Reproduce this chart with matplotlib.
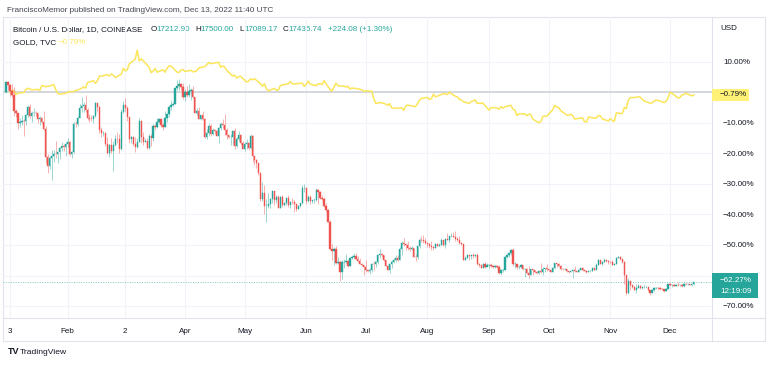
import numpy as np
import pandas as pd
import matplotlib.pyplot as plt

# BTC daily candles, thousands of USD, Jan 1 - Dec 13 2022 (open = previous close)
btc_first_open = 46.211
btc_close = [
    47.74, 47.31, 46.43, 45.84, 43.43, 43.10, 41.55, 41.67, 41.87, 41.82, 42.74, 43.95, 42.59, 43.10, 43.18, 43.11,
    42.25, 42.38, 41.74, 40.68, 36.46, 35.03, 36.28, 36.65, 36.95, 36.85, 37.14, 37.78, 38.14, 37.92, 38.48,
    38.74, 36.95, 37.15, 41.50, 41.41, 42.41, 43.84, 44.12, 44.34, 43.57, 42.41, 42.25, 42.20, 42.59, 44.58, 43.96,
    40.54, 40.03, 40.12, 38.43, 37.08, 38.29, 37.30, 38.33, 39.21, 39.11, 37.71, 43.19,
    44.35, 43.93, 42.45, 39.14, 39.40, 38.42, 37.99, 38.73, 41.94, 39.42, 38.73, 38.81, 37.78, 39.67, 39.28, 41.11,
    40.92, 41.76, 42.20, 41.26, 41.00, 42.36, 42.88, 43.99, 44.31, 44.51, 46.83, 47.13, 47.47, 47.06, 45.54,
    46.28, 45.81, 46.41, 46.58, 45.50, 43.17, 43.44, 42.25, 42.75, 42.16, 39.53, 40.07, 41.15, 39.94, 40.55, 40.38,
    39.68, 40.80, 41.50, 41.36, 40.48, 39.71, 39.44, 39.45, 40.43, 38.11, 39.24, 39.74, 38.60, 37.63,
    38.47, 38.53, 37.73, 39.69, 36.55, 36.01, 35.47, 34.04, 30.08, 31.01, 28.94, 29.05, 29.28, 30.10, 31.31, 29.86,
    30.43, 28.72, 30.32, 29.20, 29.45, 30.29, 29.10, 29.66, 29.56, 29.27, 28.63, 29.03, 29.47, 31.73, 31.80,
    29.81, 30.45, 29.70, 29.87, 29.92, 31.37, 31.13, 30.20, 30.11, 29.09, 28.42, 26.58, 22.49, 22.21, 22.57, 20.38,
    20.47, 19.02, 20.55, 20.60, 20.71, 19.99, 21.09, 21.23, 21.50, 21.03, 20.74, 20.28, 20.10, 19.79,
    19.27, 19.24, 19.30, 20.23, 20.19, 20.55, 21.64, 21.73, 21.59, 20.86, 19.97, 19.32, 20.21, 20.57, 20.84, 21.19,
    20.78, 22.49, 23.39, 23.23, 23.16, 22.71, 22.47, 22.61, 21.36, 21.24, 22.93, 23.84, 23.80, 23.66, 23.34,
    23.31, 22.98, 22.85, 22.63, 23.29, 22.96, 23.18, 23.81, 23.15, 23.95, 23.93, 24.40, 24.44, 24.31, 24.09, 23.85,
    23.34, 23.19, 20.83, 21.14, 21.52, 21.42, 21.53, 21.37, 21.56, 20.24, 20.04, 19.56, 20.29, 19.81, 20.05,
    20.13, 19.95, 19.83, 19.99, 19.81, 18.84, 19.29, 19.32, 21.36, 21.65, 21.83, 22.40, 20.17, 20.23, 19.70, 19.80,
    20.11, 19.42, 19.54, 18.89, 18.55, 19.41, 19.30, 18.94, 18.80, 19.22, 19.08, 19.41, 19.59, 19.42,
    19.31, 19.06, 19.63, 20.34, 20.16, 19.96, 19.53, 19.42, 19.45, 19.14, 19.05, 19.16, 19.38, 19.18, 19.07, 19.27,
    19.55, 19.33, 19.14, 19.05, 19.17, 19.21, 19.57, 19.35, 20.10, 20.77, 20.30, 20.59, 20.81, 20.63, 20.49,
    20.48, 20.15, 20.21, 21.15, 21.30, 20.91, 20.59, 18.54, 15.88, 17.59, 17.03, 16.80, 16.35, 16.62, 16.88, 16.66,
    16.69, 16.70, 16.71, 16.28, 15.78, 16.23, 16.60, 16.60, 16.52, 16.46, 16.43, 16.21, 16.44, 17.17,
    16.97, 17.09, 16.89, 17.11, 16.97, 17.09, 16.84, 17.23, 17.13, 17.13, 17.11, 17.213, 17.436,
]
btc_high = [
    47.94, 47.99, 47.57, 47.51, 47.07, 43.75, 43.14, 42.30, 42.75, 42.25, 43.00, 44.35, 44.43, 43.40, 43.79, 43.47,
    43.18, 42.69, 42.55, 43.41, 41.10, 36.84, 36.57, 37.50, 37.55, 38.92, 37.23, 38.00, 38.72, 38.37, 38.74,
    39.27, 38.85, 37.39, 41.72, 41.95, 42.66, 44.50, 45.49, 44.80, 45.82, 43.92, 42.99, 42.75, 42.84, 44.74, 44.58,
    44.19, 40.97, 40.44, 40.18, 39.47, 38.40, 39.26, 38.89, 39.71, 40.29, 39.88, 43.76,
    44.95, 45.38, 44.10, 42.52, 39.62, 39.63, 39.51, 39.35, 42.40, 41.94, 40.23, 39.33, 39.28, 39.88, 39.86, 41.48,
    41.43, 42.33, 42.39, 42.27, 41.54, 43.35, 43.00, 44.22, 45.10, 44.80, 46.90, 48.10, 48.19, 47.70, 47.60,
    46.70, 47.20, 47.44, 46.89, 47.19, 45.50, 43.90, 43.98, 42.80, 43.40, 42.40, 40.70, 41.55, 41.50, 40.88, 40.70,
    40.59, 41.00, 41.75, 42.20, 42.98, 40.80, 39.80, 39.92, 40.60, 40.80, 39.46, 40.37, 39.90, 38.80,
    38.65, 39.17, 38.65, 39.90, 39.80, 36.64, 36.10, 35.50, 34.20, 32.65, 32.20, 30.00, 30.98, 30.30, 31.40, 31.30,
    30.75, 30.66, 30.50, 30.70, 29.60, 30.45, 30.65, 29.80, 30.20, 29.90, 29.35, 29.20, 29.50, 32.15, 32.40,
    31.90, 30.65, 30.70, 29.95, 30.16, 31.70, 31.56, 31.32, 30.66, 30.36, 29.42, 28.55, 26.90, 23.30, 22.80, 22.95,
    21.30, 20.80, 20.80, 21.00, 21.70, 20.87, 21.20, 21.55, 21.85, 21.87, 21.50, 21.20, 20.40, 20.15,
    20.85, 19.42, 19.65, 20.35, 20.70, 20.65, 21.80, 22.45, 21.95, 21.60, 20.85, 20.05, 20.30, 20.85, 21.20, 21.57,
    21.65, 22.75, 23.77, 24.20, 23.40, 23.75, 22.95, 22.99, 22.67, 21.70, 23.00, 24.20, 24.45, 24.65, 24.20,
    23.47, 23.45, 23.65, 22.99, 23.45, 23.35, 23.40, 24.24, 23.92, 24.18, 24.92, 24.45, 24.88, 25.05, 25.20, 24.25,
    24.43, 23.60, 23.21, 21.37, 21.80, 21.52, 21.65, 21.86, 21.80, 21.88, 20.35, 20.15, 20.40, 20.55, 20.45,
    20.20, 20.45, 20.05, 20.00, 20.05, 20.15, 19.45, 19.45, 21.45, 21.80, 21.85, 22.50, 22.60, 20.55, 20.30, 19.90,
    20.20, 20.10, 19.65, 19.60, 19.95, 19.50, 19.50, 19.32, 19.20, 19.30, 20.35, 19.80, 19.65, 20.18,
    19.48, 19.39, 19.70, 20.45, 20.36, 20.45, 20.05, 19.62, 19.55, 19.52, 19.20, 19.22, 19.50, 19.95, 19.22, 19.40,
    19.69, 19.70, 19.35, 19.35, 19.25, 19.27, 19.70, 19.60, 20.40, 21.00, 20.87, 20.75, 21.08, 20.92, 20.85,
    20.65, 20.80, 20.40, 21.30, 21.48, 21.37, 20.97, 20.70, 18.59, 18.13, 17.66, 17.05, 16.90, 17.19, 17.13, 16.97,
    16.75, 17.00, 16.82, 16.74, 16.30, 16.30, 16.68, 16.81, 16.80, 16.69, 16.60, 16.48, 16.54, 17.25,
    17.32, 17.10, 17.16, 17.20, 17.43, 17.10, 17.13, 17.31, 17.30, 17.23, 17.27, 17.24, 17.50,
]
btc_low = [
    46.21, 46.66, 45.70, 45.50, 42.65, 42.50, 40.61, 41.00, 41.22, 39.65, 41.27, 42.47, 42.33, 41.75, 42.60, 42.58,
    41.54, 41.25, 41.40, 40.55, 35.55, 34.01, 34.60, 33.00, 35.70, 36.25, 35.55, 36.20, 37.40, 37.36, 36.65,
    38.02, 36.62, 36.26, 37.05, 40.95, 41.13, 42.38, 43.32, 43.22, 43.20, 41.99, 41.73, 41.86, 41.57, 42.43, 43.32,
    40.11, 39.48, 39.66, 38.04, 36.84, 36.38, 37.03, 34.32, 38.03, 38.63, 37.05, 37.50,
    43.03, 43.36, 41.83, 38.60, 38.60, 38.10, 37.15, 37.86, 38.66, 38.53, 38.23, 38.66, 37.60, 37.58, 38.12, 38.90,
    40.50, 40.85, 41.55, 40.95, 40.47, 41.00, 41.75, 42.57, 43.60, 44.10, 44.40, 46.61, 46.58, 46.56, 45.20,
    44.90, 45.60, 45.60, 45.10, 45.40, 43.05, 42.73, 42.13, 42.11, 42.10, 39.25, 39.22, 39.60, 39.58, 39.80, 39.99,
    39.55, 38.54, 40.57, 40.80, 39.75, 39.20, 39.30, 38.20, 38.20, 37.70, 37.88, 38.90, 38.19, 37.58,
    37.40, 37.70, 37.50, 37.65, 35.75, 35.30, 34.80, 33.70, 29.75, 29.75, 27.75, 26.60, 28.75, 28.70, 29.50, 29.10,
    29.40, 28.65, 28.70, 28.80, 28.95, 29.20, 28.90, 28.70, 29.30, 28.05, 28.30, 28.55, 28.85, 29.30, 31.20,
    29.30, 29.60, 29.25, 29.50, 29.50, 29.80, 29.25, 30.00, 29.95, 28.85, 28.10, 26.55, 22.35, 20.80, 20.10, 20.25,
    20.25, 17.60, 18.00, 19.65, 20.35, 19.78, 19.90, 20.95, 21.00, 20.95, 20.50, 20.20, 19.85, 18.60,
    18.95, 18.98, 18.75, 19.05, 19.30, 19.80, 20.28, 21.20, 21.30, 20.68, 19.86, 19.25, 18.93, 19.65, 20.38, 20.50,
    20.75, 20.78, 21.60, 22.90, 22.35, 22.35, 22.25, 22.30, 21.25, 20.70, 21.05, 22.58, 23.50, 23.45, 23.30,
    22.85, 22.68, 22.42, 22.42, 22.58, 22.92, 22.88, 23.16, 22.90, 22.68, 23.88, 23.62, 24.25, 24.25, 23.75, 23.68,
    23.20, 23.13, 20.80, 20.78, 21.10, 20.90, 21.01, 21.20, 21.35, 20.15, 19.80, 19.55, 19.55, 19.55, 19.85,
    19.58, 19.75, 19.65, 19.61, 19.63, 18.67, 18.55, 19.00, 19.28, 21.10, 21.35, 21.60, 19.90, 19.60, 19.50, 19.50,
    19.62, 19.35, 18.25, 18.70, 18.15, 18.60, 18.60, 18.85, 18.65, 18.70, 18.82, 18.50, 19.00, 19.20,
    19.20, 19.00, 19.04, 19.50, 19.83, 19.86, 19.35, 19.32, 19.31, 19.05, 18.88, 18.97, 18.15, 19.08, 18.98, 19.05,
    19.25, 19.18, 19.08, 18.90, 18.95, 19.12, 19.20, 19.27, 19.25, 20.05, 20.20, 20.00, 20.56, 20.50, 20.25,
    20.35, 20.05, 20.05, 20.18, 21.08, 20.88, 20.38, 17.17, 15.59, 15.75, 16.35, 16.55, 16.25, 15.82, 16.55, 16.40,
    16.43, 16.55, 16.55, 16.18, 15.48, 15.78, 16.17, 16.45, 16.35, 16.35, 16.40, 16.00, 16.21, 16.43,
    16.86, 16.79, 16.88, 16.88, 16.90, 16.90, 16.70, 16.75, 17.07, 17.07, 17.07, 16.87, 17.09,
]

# TVC:GOLD weekday closes, Jan 3 - Dec 13 2022
gold_base = 1801.0
gold_close = [
    1801, 1814, 1810, 1789, 1797, 1801, 1818, 1826, 1821, 1817, 1819, 1813, 1842, 1839, 1835, 1843, 1848, 1819,
    1797, 1791, 1797,
    1801, 1807, 1805, 1807, 1820, 1826, 1833, 1827, 1859, 1871, 1855, 1871, 1898, 1898, 1906, 1899, 1910, 1903,
    1889, 1909,
    1944, 1928, 1936, 1970, 1998, 2051, 1988, 2000, 1988, 1951, 1918, 1927, 1943, 1921, 1935, 1921, 1944, 1958,
    1958, 1922, 1919, 1933, 1937,
    1925, 1932, 1923, 1925, 1931, 1946, 1954, 1966, 1978, 1971, 1974, 1979, 1950, 1958, 1951, 1932, 1898, 1904,
    1887, 1894, 1897,
    1863, 1868, 1881, 1876, 1883, 1854, 1838, 1853, 1822, 1811, 1825, 1815, 1815, 1842, 1846, 1853, 1866, 1853,
    1851, 1853, 1856, 1837,
    1848, 1869, 1851, 1841, 1852, 1853, 1848, 1871, 1819, 1809, 1834, 1857, 1840, 1839, 1833, 1838, 1822, 1827,
    1823, 1820, 1817, 1807,
    1811, 1808, 1764, 1737, 1739, 1742, 1733, 1725, 1735, 1711, 1708, 1709, 1711, 1696, 1719, 1727, 1719, 1717,
    1735, 1755, 1766,
    1772, 1760, 1765, 1791, 1775, 1789, 1795, 1792, 1789, 1802, 1779, 1776, 1761, 1758, 1747, 1736, 1748, 1751,
    1758, 1737, 1738, 1723, 1711,
    1697, 1712, 1710, 1702, 1718, 1708, 1717, 1725, 1702, 1697, 1665, 1675, 1675, 1664, 1674, 1671, 1644, 1622,
    1629, 1660, 1661, 1661,
    1699, 1725, 1716, 1712, 1695, 1668, 1666, 1673, 1666, 1644, 1650, 1652, 1629, 1627, 1657, 1649, 1652, 1665,
    1663, 1645, 1633,
    1647, 1636, 1630, 1681, 1676, 1712, 1706, 1755, 1771, 1772, 1777, 1774, 1761, 1751, 1738, 1740, 1750, 1755,
    1755, 1741, 1749, 1768,
    1802, 1797, 1769, 1771, 1787, 1789, 1797, 1781, 1786.8,
]

month_dates = ["2022-01-03", "2022-02-01", "2022-03-02", "2022-04-01", "2022-05-01", "2022-06-01",
               "2022-07-01", "2022-08-01", "2022-09-01", "2022-10-01", "2022-11-01", "2022-12-01"]
month_labels = ["3", "Feb", "2", "Apr", "May", "Jun", "Jul", "Aug", "Sep", "Oct", "Nov", "Dec"]
pct_ticks = [10, 0, -10, -20, -30, -40, -50, -60, -70]

UP = "#26a69a"
DOWN = "#ef5350"
GOLD = "#fbe55a"
TXT = "#131722"
BORDER = "#e0e3eb"
GRID = "#f0f3fa"
FS = 5.8
plt.rcParams["font.family"] = ["Liberation Sans", "DejaVu Sans"]

start = pd.Timestamp("2022-01-01")
btc_dates = pd.date_range(start, periods=len(btc_close), freq="D")
btc_x = np.array((btc_dates - start).days, dtype=float)
close = np.array(btc_close)
opens = np.concatenate([[btc_first_open], close[:-1]])
base = btc_first_open
c_pct = (close / base - 1) * 100
o_pct = (opens / base - 1) * 100
h_pct = (np.array(btc_high) / base - 1) * 100
l_pct = (np.array(btc_low) / base - 1) * 100
cols = np.where(c_pct >= o_pct, UP, DOWN)

gold_dates = pd.bdate_range("2022-01-03", periods=len(gold_close))
gold_x = np.array((gold_dates - start).days, dtype=float)
gold_pct = (np.array(gold_close) / gold_base - 1) * 100

W, H = 768, 365
fig = plt.figure(figsize=(W / 100, H / 100), dpi=100)

# frame / header in pixel coords
bg = fig.add_axes([0, 0, 1, 1], zorder=0)
bg.set_xlim(0, W)
bg.set_ylim(H, 0)
bg.axis("off")
pl, pr, pt, pb = 3, 712, 17, 318
bg.plot([pl, 765, 765, pl, pl], [pt, pt, 341, 341, pt], color=BORDER, lw=0.8)
bg.plot([pl, 765], [pb, pb], color=BORDER, lw=0.8)
bg.plot([pr, pr], [pt, 341], color=BORDER, lw=0.8)

bg.text(7, 10, "FranciscoMemor published on TradingView.com, Dec 13, 2022 11:40 UTC",
        fontsize=5.9, color="#434651", va="center")

ly = 29.5
bg.text(13, ly, "Bitcoin / U.S. Dollar, 1D, COINBASE", fontsize=FS, color=TXT, va="center")
for xx, letter, val in [(151, "O", "17212.90"), (195, "H", "17500.00"),
                        (239, "L", "17089.17"), (283, "C", "17435.74")]:
    bg.text(xx, ly, letter, fontsize=FS, color=TXT, va="center")
    bg.text(xx + 5.5, ly, val, fontsize=FS, color=UP, va="center")
bg.text(328, ly, "+224.08 (+1.30%)", fontsize=FS, color=UP, va="center")
bg.text(13, 42.5, "GOLD, TVC", fontsize=FS, color=TXT, va="center")
bg.text(59, 42.5, "\u22120.79%", fontsize=FS, color=GOLD, va="center")

bg.text(720, 28, "USD", fontsize=FS, color=TXT, va="center")

bg.text(8, 352, "TV", fontsize=6.5, color=TXT, va="center", fontweight="bold")
bg.text(20, 352, "TradingView", fontsize=6.1, color=TXT, va="center")

# main pane
k = 1.988
x0 = 6.0
ax = fig.add_axes([pl / W, 1 - pb / H, (pr - pl) / W, (pb - pt) / H], zorder=1)
ax.patch.set_alpha(0)
ax.set_xlim((pl - x0) / k, (pr - x0) / k)
ax.set_ylim((92.5 - pb) / 3.05, (92.5 - pt) / 3.05)
for s in ax.spines.values():
    s.set_visible(False)

mx = np.array((pd.to_datetime(month_dates) - start).days, dtype=float)
for v in mx:
    ax.axvline(v, color=GRID, lw=0.8, zorder=0)
for v in pct_ticks:
    ax.axhline(v, color=GRID, lw=0.8, zorder=0)

ax.axhline(0, color="#d1d4dc", lw=1.3, zorder=1)
ax.axhline(c_pct[-1], color=UP, lw=0.7, ls=(0, (1, 1.5)), alpha=0.6, zorder=1)

ax.plot(gold_x, gold_pct, color=GOLD, lw=1.1, zorder=2)

ax.vlines(btc_x, l_pct, h_pct, colors=cols, lw=0.7, alpha=0.45, zorder=3)
ax.bar(btc_x, c_pct - o_pct, bottom=o_pct, width=0.62, color=cols, edgecolor=cols, linewidth=0.3, zorder=4)

ax.set_xticks(mx)
ax.set_xticklabels(month_labels)
ax.yaxis.tick_right()
ax.set_yticks(pct_ticks)
# 0% label sits under the gold last-value box, so it is left blank
ax.set_yticklabels(["" if v == 0 else ("%.2f%%" % v).replace("-", "\u2212") for v in pct_ticks])
ax.tick_params(axis="x", length=0, pad=7, labelsize=FS, labelcolor=TXT)
ax.tick_params(axis="y", length=0, pad=8, labelsize=FS, labelcolor=TXT)

# last-value boxes on the price scale
top = fig.add_axes([0, 0, 1, 1], zorder=2)
top.set_xlim(0, W)
top.set_ylim(H, 0)
top.axis("off")
g_y = 92.5 - 3.05 * gold_pct[-1]
b_y = 92.5 - 3.05 * c_pct[-1]
top.add_patch(plt.Rectangle((pr, g_y - 6), 37, 12, color="#fff176", lw=0))
top.text(720, g_y, "\u22120.79%", fontsize=FS, color=TXT, va="center")
top.add_patch(plt.Rectangle((pr, b_y - 9.5), 46, 25, color=UP, lw=0))
top.text(720, b_y - 2, "\u221262.27%", fontsize=FS, color="white", va="center")
top.text(720, b_y + 9.5, "12:19:09", fontsize=FS, color="white", va="center")

fig.savefig("out.png", dpi=100, facecolor="white")
